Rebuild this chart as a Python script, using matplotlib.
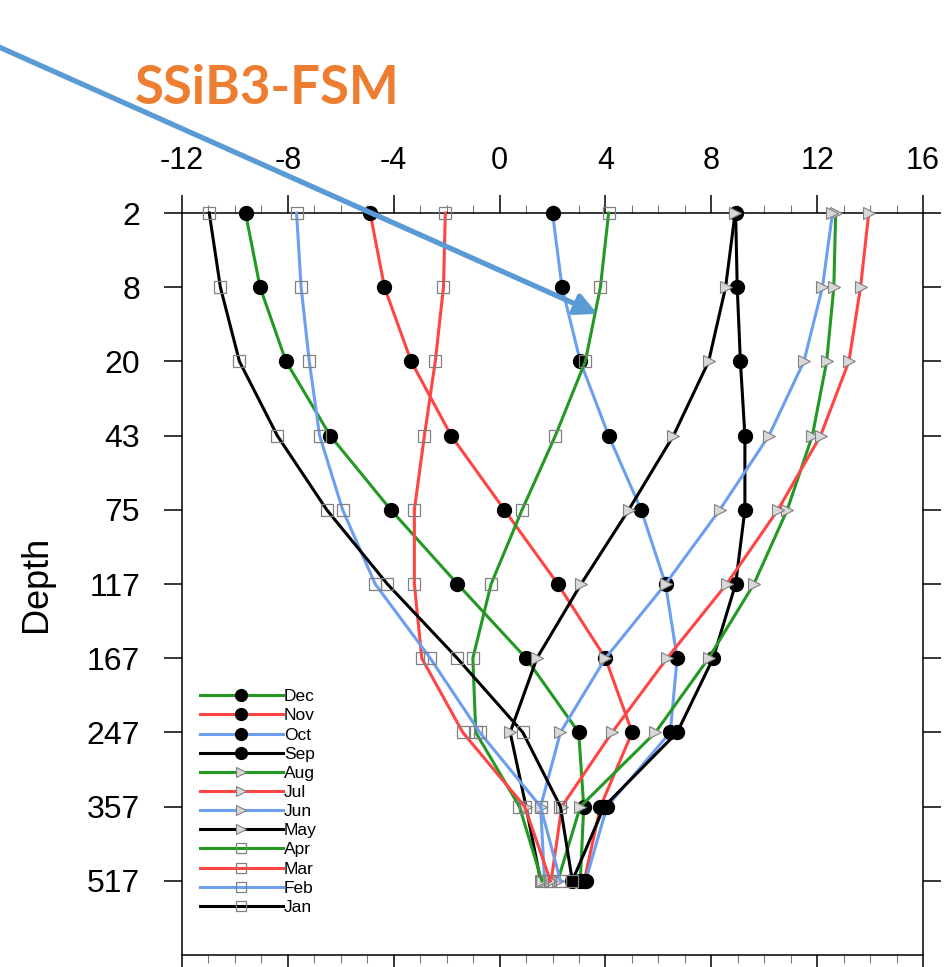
import numpy as np
import matplotlib
matplotlib.use('Agg')
import matplotlib.pyplot as plt
from matplotlib.patches import FancyArrowPatch

# depth levels (equally spaced on the plot)
depths = ['2', '8', '20', '43', '75', '117', '167', '247', '357', '517']
months = ['Dec', 'Nov', 'Oct', 'Sep', 'Aug', 'Jul', 'Jun', 'May', 'Apr', 'Mar', 'Feb', 'Jan']

dec = [-9.6, -9.05, -8.07, -6.4, -4.11, -1.59, 1.0, 2.99, 3.18, 3.05]
nov = [-4.89, -4.35, -3.34, -1.83, 0.18, 2.2, 4.0, 5.01, 3.81, 3.2]
octo = [2.0, 2.36, 3.05, 4.12, 5.35, 6.27, 6.71, 6.45, 4.06, 3.25]
sep = [8.92, 8.98, 9.1, 9.27, 9.27, 8.92, 8.07, 6.71, 3.95, 2.75]
aug = [12.7, 12.63, 12.36, 11.82, 10.87, 9.61, 7.9, 5.89, 3.05, 2.2]
jul = [13.95, 13.64, 13.2, 12.13, 10.52, 8.58, 6.33, 4.25, 2.35, 1.95]
jun = [12.58, 12.2, 11.5, 10.18, 8.32, 6.27, 4.0, 2.3, 1.55, 1.7]
may = [8.9, 8.54, 7.9, 6.57, 4.88, 3.08, 1.41, 0.4, 1.0, 1.55]
apr = [4.12, 3.81, 3.24, 2.11, 0.85, -0.32, -1.01, -0.9, 0.75, 1.6]
mar = [-2.05, -2.12, -2.43, -2.84, -3.22, -3.22, -2.94, -1.39, 0.95, 1.92]
feb = [-7.67, -7.5, -7.19, -6.8, -5.93, -4.7, -2.62, -0.75, 1.55, 2.3]
jan = [-10.97, -10.55, -9.83, -8.4, -6.53, -4.24, -1.6, 0.88, 2.3, 2.75]

series = [dec, nov, octo, sep, aug, jul, jun, may, apr, mar, feb, jan]
colors = ['#229922', '#ff4444', '#6d9eef', 'black']

plt.rcParams['font.family'] = ['Liberation Sans', 'DejaVu Sans']
plt.rcParams['axes.unicode_minus'] = False

fig = plt.figure(figsize=(9.44, 9.67), dpi=100)
ax = fig.add_axes([0.1928, 0.0124, 0.78496, 0.76732])

y = np.arange(len(depths))
for i, (name, vals) in enumerate(zip(months, series)):
    c = colors[i % 4]
    if i < 4:
        mk = dict(marker='o', ms=10, mfc='black', mec='black')
    elif i < 8:
        mk = dict(marker='>', ms=8, mfc='#d8d8d8', mec='#808080', mew=0.8)
    else:
        mk = dict(marker='s', ms=9, mfc='none', mec='#808080', mew=0.9)
    ax.plot(vals, y, color=c, lw=2.2, label=name, clip_on=False, zorder=3, **mk)

ax.set_xlim(-12, 16)
ax.set_ylim(10, 0)
ax.set_xticks(np.arange(-12, 17, 4))
ax.set_xticks(np.arange(-12, 17, 1), minor=True)
ax.set_yticks(y)
ax.set_yticklabels(depths)
ax.tick_params(axis='x', which='both', top=True, bottom=True, labeltop=True,
               labelbottom=False, direction='out', labelsize=22)
ax.tick_params(axis='x', which='major', length=13, width=1.1, pad=14)
ax.tick_params(axis='x', which='minor', length=6, width=0.8, color='#777777')
ax.tick_params(axis='y', left=True, right=True, direction='out', length=13,
               width=1.1, labelsize=23, pad=17)
for s in ax.spines.values():
    s.set_linewidth(1.1)
ax.set_ylabel('Depth', fontsize=26, labelpad=24)

ax.legend(loc='upper left', bbox_to_anchor=(0.012, 0.37), frameon=False,
          fontsize=12.5, handlelength=4.8, handletextpad=0.05, labelspacing=0.23,
          borderpad=0, markerscale=0.85)

# slide overlay: title text and arrow
fig.text(135 / 944, 1 - 88 / 967, 'SSiB3-FSM', color='#ED7D31', fontsize=38,
         fontweight='bold', family='Lato', va='center', ha='left')
arrow = FancyArrowPatch((-10 / 944, 1 - 43 / 967), (600 / 944, 1 - 315 / 967),
                        transform=fig.transFigure, arrowstyle='-|>',
                        mutation_scale=32, color='#5B9BD5', lw=3.8, zorder=10)
fig.add_artist(arrow)

fig.savefig('out.png', dpi=100)
